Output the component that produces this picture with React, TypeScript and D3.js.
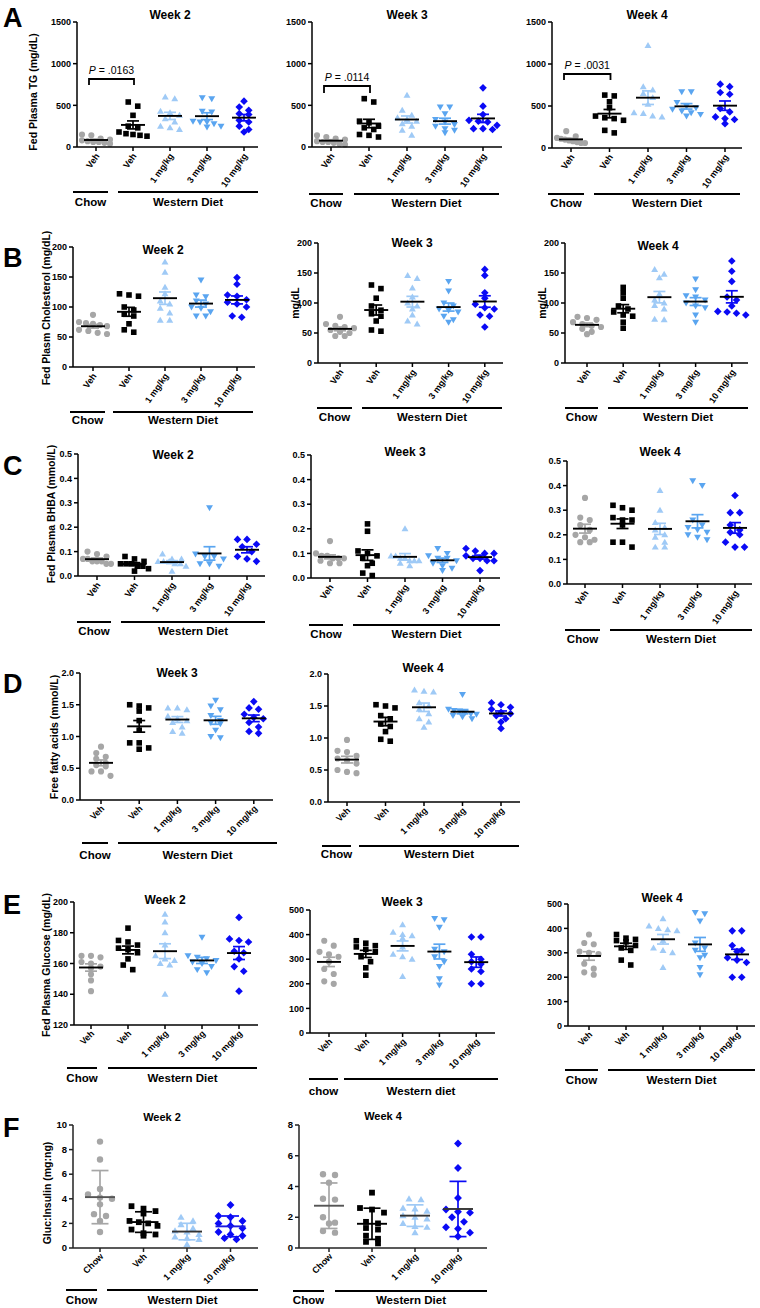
import React from "react";
import * as d3 from "d3";

const FONT = "'Liberation Sans', Arial, Helvetica, sans-serif";

// ---------- categories & ticks ----------
const catsMain = ["Veh", "Veh", "1 mg/kg", "3 mg/kg", "10 mg/kg"];
const catsF = ["Chow", "Veh", "1 mg/kg", "10 mg/kg"];
const tgTicks = [0, 500, 1000, 1500];
const cholTicks = [0, 50, 100, 150, 200];
const bhbaTicks = [0, 0.1, 0.2, 0.3, 0.4, 0.5];
const ffaTicks = [0, 0.5, 1.0, 1.5, 2.0];
const glucW2Ticks = [120, 140, 160, 180, 200];
const glucTicks = [0, 100, 200, 300, 400, 500];
const giW2Ticks = [0, 2, 4, 6, 8, 10];
const giW4Ticks = [0, 2, 4, 6, 8];

// ---------- A: Fed plasma TG (mg/dL) ----------
const tgW2 = [
  [150, 140, 100, 90, 80, 70, 60, 60, 50, 40],
  [540, 490, 380, 250, 230, 180, 160, 150, 140, 130],
  [600, 580, 430, 410, 380, 340, 300, 250, 230, 210],
  [590, 580, 430, 420, 310, 300, 300, 280, 250, 240],
  [550, 480, 440, 400, 390, 320, 300, 250, 210, 180],
];
const tgW3 = [
  [140, 120, 100, 90, 70, 60, 50, 40, 30, 60],
  [580, 540, 310, 290, 250, 230, 210, 150, 140, 120],
  [620, 440, 380, 350, 330, 310, 280, 250, 200, 140],
  [480, 480, 400, 330, 300, 270, 250, 220, 200, 170],
  [710, 490, 390, 320, 310, 300, 260, 220, 220, 210],
];
const tgW4 = [
  [200, 140, 120, 110, 100, 90, 80, 70, 60, 60],
  [630, 620, 550, 480, 380, 360, 350, 330, 210, 180],
  [1220, 730, 690, 650, 600, 520, 420, 410, 380, 370],
  [670, 670, 540, 500, 480, 460, 440, 420, 400, 380],
  [760, 730, 660, 640, 470, 430, 370, 350, 340, 290],
];
const tgPValues = ["P = .0163", "P = .0114", "P = .0031"];
const tgBracketTop = [816, 732, 881];
const tgBracketLeg = [744, 648, 810];

// ---------- B: Fed plasma cholesterol (mg/dL) ----------
const cholW2 = [
  [87, 75, 73, 72, 70, 68, 62, 60, 57, 55],
  [122, 120, 118, 100, 95, 88, 85, 72, 62, 58],
  [175, 158, 133, 122, 110, 105, 98, 90, 78, 78],
  [145, 120, 117, 110, 105, 100, 98, 92, 85, 85],
  [149, 138, 120, 118, 112, 108, 105, 100, 85, 83],
];
const cholW3 = [
  [77, 65, 62, 60, 58, 55, 52, 50, 45, 45],
  [130, 124, 108, 95, 88, 82, 78, 70, 55, 53],
  [146, 141, 125, 110, 100, 95, 90, 80, 70, 65],
  [136, 120, 100, 95, 90, 88, 85, 78, 72, 68],
  [156, 146, 117, 108, 98, 92, 90, 80, 78, 60],
];
const cholW4 = [
  [77, 75, 72, 68, 65, 62, 60, 57, 52, 48],
  [126, 117, 108, 95, 90, 85, 80, 78, 68, 58],
  [156, 148, 142, 115, 105, 100, 96, 90, 73, 72],
  [140, 122, 112, 110, 105, 100, 95, 92, 80, 68],
  [170, 153, 136, 110, 105, 95, 86, 85, 83, 80],
];

// ---------- C: Fed plasma BHBA (mmol/L) ----------
const bhbaW2 = [
  [0.10, 0.09, 0.08, 0.07, 0.07, 0.06, 0.06, 0.06, 0.05, 0.05],
  [0.08, 0.07, 0.06, 0.05, 0.05, 0.05, 0.04, 0.04, 0.03, 0.02],
  [0.09, 0.07, 0.07, 0.06, 0.06, 0.06, 0.05, 0.05, 0.04, 0.02],
  [0.28, 0.09, 0.08, 0.08, 0.07, 0.05, 0.05, 0.04],
  [0.15, 0.15, 0.13, 0.12, 0.10, 0.08, 0.07, 0.06],
];
const bhbaW3 = [
  [0.15, 0.10, 0.09, 0.09, 0.08, 0.08, 0.08, 0.07, 0.06, 0.06],
  [0.22, 0.19, 0.11, 0.10, 0.09, 0.08, 0.06, 0.05, 0.02, 0.01],
  [0.20, 0.09, 0.09, 0.08, 0.08, 0.07, 0.07, 0.07, 0.06, 0.05],
  [0.12, 0.10, 0.09, 0.08, 0.08, 0.07, 0.06, 0.05, 0.04, 0.03],
  [0.12, 0.11, 0.10, 0.10, 0.09, 0.08, 0.08, 0.07, 0.07, 0.03],
];
const bhbaW4 = [
  [0.35, 0.27, 0.26, 0.24, 0.22, 0.20, 0.19, 0.18, 0.17, 0.17],
  [0.32, 0.31, 0.30, 0.27, 0.26, 0.26, 0.24, 0.17, 0.17, 0.15],
  [0.38, 0.30, 0.25, 0.23, 0.22, 0.20, 0.19, 0.17, 0.15, 0.15],
  [0.42, 0.40, 0.26, 0.24, 0.23, 0.22, 0.21, 0.20, 0.19, 0.18],
  [0.36, 0.29, 0.29, 0.24, 0.22, 0.21, 0.20, 0.17, 0.15, 0.15],
];

// ---------- D: Free fatty acids (mmol/L) ----------
const ffaW3 = [
  [0.84, 0.74, 0.68, 0.65, 0.58, 0.55, 0.53, 0.45, 0.45, 0.38],
  [1.50, 1.48, 1.45, 1.40, 1.25, 1.10, 0.90, 0.90, 0.82, 0.80],
  [1.45, 1.45, 1.42, 1.32, 1.28, 1.25, 1.22, 1.15, 1.08, 1.05],
  [1.57, 1.48, 1.42, 1.33, 1.25, 1.22, 1.20, 1.10, 1.00, 0.98],
  [1.55, 1.45, 1.43, 1.35, 1.30, 1.28, 1.22, 1.15, 1.08, 1.05],
];
const ffaW4 = [
  [0.97, 0.80, 0.78, 0.72, 0.68, 0.65, 0.60, 0.50, 0.47, 0.45],
  [1.52, 1.50, 1.47, 1.35, 1.30, 1.22, 1.18, 1.10, 0.98, 0.95],
  [1.75, 1.73, 1.72, 1.55, 1.50, 1.45, 1.38, 1.30, 1.25, 1.17],
  [1.68, 1.45, 1.43, 1.42, 1.40, 1.38, 1.37, 1.35, 1.33, 1.30],
  [1.55, 1.52, 1.48, 1.45, 1.40, 1.38, 1.35, 1.30, 1.25, 1.15],
];

// ---------- E: Fed plasma glucose (mg/dL) ----------
const glucW2 = [
  [165, 165, 164, 161, 160, 158, 157, 153, 149, 142],
  [183, 175, 174, 172, 170, 169, 167, 163, 159, 156],
  [192, 187, 180, 172, 165, 163, 162, 160, 159, 140],
  [177, 165, 164, 163, 162, 161, 160, 158, 156, 154],
  [190, 176, 175, 174, 168, 167, 163, 158, 155, 142],
];
const glucW3 = [
  [375, 355, 330, 320, 310, 290, 260, 240, 210, 200],
  [375, 365, 355, 350, 340, 330, 310, 290, 265, 235],
  [440, 410, 400, 395, 385, 350, 320, 310, 300, 230],
  [465, 460, 430, 340, 330, 310, 290, 270, 220, 195],
  [390, 390, 320, 300, 290, 280, 260, 250, 200, 200],
];
const glucW4 = [
  [375, 340, 335, 305, 300, 295, 255, 235, 220, 210],
  [375, 360, 355, 350, 345, 330, 320, 310, 270, 250],
  [440, 410, 400, 395, 390, 350, 320, 310, 300, 240],
  [465, 460, 430, 340, 320, 310, 290, 280, 240, 210],
  [390, 390, 330, 310, 305, 280, 270, 260, 200, 200],
];

// ---------- F: Gluc:Insulin (mg:ng) ----------
const giW2 = [
  [8.65, 7.2, 4.8, 4.35, 4.1, 4.0, 3.55, 2.75, 2.6, 2.2, 1.3],
  [3.4, 3.2, 3.0, 2.8, 2.2, 2.1, 2.0, 1.8, 1.5, 1.2, 1.1, 1.0],
  [2.5, 2.2, 1.9, 1.6, 1.4, 1.3, 1.1, 0.9, 0.8, 0.7, 0.3],
  [3.5, 2.6, 2.5, 2.2, 2.0, 1.8, 1.6, 1.3, 1.1, 1.0, 0.8, 0.7],
];
const giW4 = [
  [4.8, 4.75, 4.25, 3.2, 3.15, 2.0, 1.65, 1.6, 1.1, 1.0],
  [3.6, 2.6, 2.5, 2.3, 1.7, 1.6, 1.3, 1.2, 0.8, 0.6, 0.4, 0.3],
  [3.2, 3.15, 2.6, 2.55, 2.4, 2.1, 2.0, 1.9, 1.6, 1.4, 1.35, 1.0],
  [6.8, 5.2, 3.25, 2.5, 2.35, 2.3, 2.0, 1.7, 1.35, 1.25, 1.0, 0.75],
];

// ---------- styles ----------
const colorsMain = ["#a6a6a6", "#000000", "#9fcaf6", "#5aa5f0", "#0a0af5"];
const shapesMain = ["circle", "square", "up", "down", "diamond"];
const colorsF = ["#a6a6a6", "#000000", "#9fcaf6", "#0a0af5"];
const shapesF = ["circle", "square", "up", "diamond"];

function markerPath(shape: string, s: number): string {
  const h = s / 2;
  switch (shape) {
    case "circle": {
      const r = s * 0.55;
      return `M${-r},0A${r},${r} 0 1,0 ${r},0A${r},${r} 0 1,0 ${-r},0Z`;
    }
    case "square":
      return `M${-h},${-h}H${h}V${h}H${-h}Z`;
    case "up":
      return `M0,${-s * 0.62}L${s * 0.62},${s * 0.45}L${-s * 0.62},${s * 0.45}Z`;
    case "down":
      return `M0,${s * 0.62}L${s * 0.62},${-s * 0.45}L${-s * 0.62},${-s * 0.45}Z`;
    default:
      return `M0,${-s * 0.68}L${s * 0.68},0L0,${s * 0.68}L${-s * 0.68},0Z`;
  }
}

function swarm(vals: number[], y: (v: number) => number, rowH: number, spacing: number, maxW: number) {
  const order = vals.map((_, i) => i).sort((a, b) => vals[b] - vals[a]);
  const rows: number[][] = [];
  let cur: number[] = [];
  let startY = 0;
  for (const i of order) {
    const py = y(vals[i]);
    if (cur.length === 0) {
      cur = [i];
      startY = py;
    } else if (py - startY < rowH) cur.push(i);
    else {
      rows.push(cur);
      cur = [i];
      startY = py;
    }
  }
  if (cur.length) rows.push(cur);
  const off = new Array(vals.length).fill(0);
  rows.forEach((r) => {
    const n = r.length;
    const s = n > 1 ? Math.min(spacing, maxW / (n - 1)) : 0;
    r.forEach((idx, j) => (off[idx] = (j - (n - 1) / 2) * s));
  });
  return off;
}

type Spec = {
  key: string;
  data: number[][];
  cats: string[];
  domain: [number, number];
  ticks: number[];
  fmt: (v: number) => string;
  ax: number;
  axEnd: number;
  yTop: number;
  yBot: number;
  c0: number;
  step: number;
  title: string;
  tx: number;
  ty: number;
  ylabel?: string;
  ylx?: number;
  yly?: number;
  angle: number;
  chow: [number, number];
  wd: [number, number];
  gy: number;
  gty: number;
  chowText?: string;
  wdText?: string;
  isF?: boolean;
  bracket?: { top: number; leg: number; text: string };
  meanColors?: string[];
};

const fInt = d3.format("d");
const f1 = d3.format(".1f");

const specs: Spec[] = [
  // Row A
  { key: "a1", data: tgW2, cats: catsMain, domain: [0, 1500], ticks: tgTicks, fmt: fInt, ax: 77, axEnd: 258, yTop: 22, yBot: 147, c0: 96, step: 37, title: "Week 2", tx: 170, ty: 19, ylabel: "Fed Plasma TG (mg/dL)", ylx: 33, yly: 92, angle: 55, chow: [73, 108], wd: [118, 258], gy: 192, gty: 206, bracket: { top: tgBracketTop[0], leg: tgBracketLeg[0], text: tgPValues[0] } },
  { key: "a2", data: tgW3, cats: catsMain, domain: [0, 1500], ticks: tgTicks, fmt: fInt, ax: 312, axEnd: 502, yTop: 22, yBot: 147, c0: 331, step: 38, title: "Week 3", tx: 407, ty: 19, angle: 55, chow: [309, 343], wd: [354, 499], gy: 194, gty: 207, bracket: { top: tgBracketTop[1], leg: tgBracketLeg[1], text: tgPValues[1] } },
  { key: "a3", data: tgW4, cats: catsMain, domain: [0, 1500], ticks: tgTicks, fmt: fInt, ax: 552, axEnd: 742, yTop: 22, yBot: 148, c0: 571, step: 38.5, title: "Week 4", tx: 647, ty: 19, angle: 55, chow: [548, 584], wd: [594, 740], gy: 194, gty: 207, bracket: { top: tgBracketTop[2], leg: tgBracketLeg[2], text: tgPValues[2] } },
  // Row B
  { key: "b1", data: cholW2, cats: catsMain, domain: [0, 200], ticks: cholTicks, fmt: fInt, ax: 73, axEnd: 255, yTop: 247, yBot: 367, c0: 93, step: 36, title: "Week 2", tx: 163, ty: 254, ylabel: "Fed Plasm Cholesterol (mg/dL)", ylx: 46, yly: 308, angle: 55, chow: [70, 105], wd: [113, 253], gy: 412, gty: 424 },
  { key: "b2", data: cholW3, cats: catsMain, domain: [0, 200], ticks: cholTicks, fmt: fInt, ax: 318, axEnd: 503, yTop: 243, yBot: 363, c0: 340, step: 36.2, title: "Week 3", tx: 412, ty: 247, ylabel: "mg/dL", ylx: 295, yly: 303, angle: 55, chow: [317, 352], wd: [362, 502], gy: 408, gty: 421 },
  { key: "b3", data: cholW4, cats: catsMain, domain: [0, 200], ticks: cholTicks, fmt: fInt, ax: 565, axEnd: 748, yTop: 243, yBot: 363, c0: 587, step: 36.2, title: "Week 4", tx: 658, ty: 250, ylabel: "mg/dL", ylx: 542, yly: 303, angle: 55, chow: [565, 598], wd: [608, 748], gy: 408, gty: 421 },
  // Row C
  { key: "c1", data: bhbaW2, cats: catsMain, domain: [0, 0.5], ticks: bhbaTicks, fmt: f1, ax: 78, axEnd: 265, yTop: 454, yBot: 576, c0: 97, step: 37.5, title: "Week 2", tx: 173, ty: 459, ylabel: "Fed Plasma BHBA (mmol/L)", ylx: 51, yly: 514, angle: 55, chow: [77, 111], wd: [121, 265], gy: 622, gty: 635 },
  { key: "c2", data: bhbaW3, cats: catsMain, domain: [0, 0.5], ticks: bhbaTicks, fmt: f1, ax: 311, axEnd: 500, yTop: 455, yBot: 578, c0: 330, step: 37.5, title: "Week 3", tx: 405, ty: 456, angle: 55, chow: [309, 343], wd: [353, 500], gy: 625, gty: 638 },
  { key: "c3", data: bhbaW4, cats: catsMain, domain: [0, 0.5], ticks: bhbaTicks, fmt: f1, ax: 567, axEnd: 752, yTop: 461, yBot: 584, c0: 585, step: 37.5, title: "Week 4", tx: 660, ty: 456, angle: 55, chow: [565, 600], wd: [610, 752], gy: 630, gty: 643 },
  // Row D
  { key: "d1", data: ffaW3, cats: catsMain, domain: [0, 2], ticks: ffaTicks, fmt: f1, ax: 80, axEnd: 273, yTop: 673, yBot: 800, c0: 101, step: 38.2, title: "Week 3", tx: 177, ty: 677, ylabel: "Free fatty acids (mmol/L)", ylx: 54, yly: 737, angle: 45, chow: [82, 108], wd: [118, 277], gy: 843, gty: 859 },
  { key: "d2", data: ffaW4, cats: catsMain, domain: [0, 2], ticks: ffaTicks, fmt: f1, ax: 328, axEnd: 520, yTop: 674, yBot: 802, c0: 347, step: 38.5, title: "Week 4", tx: 423, ty: 672, angle: 45, chow: [322, 351], wd: [359, 519], gy: 846, gty: 858 },
  // Row E
  { key: "e1", data: glucW2, cats: catsMain, domain: [120, 200], ticks: glucW2Ticks, fmt: fInt, ax: 74, axEnd: 258, yTop: 902, yBot: 1025, c0: 91, step: 37, title: "Week 2", tx: 165, ty: 904, ylabel: "Fed Plasma Glucose (mg/dL)", ylx: 46, yly: 965, angle: 45, chow: [67, 97], wd: [108, 257], gy: 1068, gty: 1082 },
  { key: "e2", data: glucW3, cats: catsMain, domain: [0, 500], ticks: glucTicks, fmt: fInt, ax: 310, axEnd: 495, yTop: 910, yBot: 1033, c0: 329, step: 36.8, title: "Week 3", tx: 402, ty: 906, angle: 45, chow: [309, 338], wd: [344, 498], gy: 1079, gty: 1095, chowText: "chow", wdText: "Western diet" },
  { key: "e3", data: glucW4, cats: catsMain, domain: [0, 500], ticks: glucTicks, fmt: fInt, ax: 568, axEnd: 755, yTop: 904, yBot: 1026, c0: 589, step: 37, title: "Week 4", tx: 662, ty: 902, angle: 45, chow: [565, 598], wd: [608, 755], gy: 1070, gty: 1084 },
  // Row F
  { key: "f1", data: giW2, cats: catsF, domain: [0, 10], ticks: giW2Ticks, fmt: fInt, ax: 73, axEnd: 258, yTop: 1125, yBot: 1248, c0: 100, step: 43.5, title: "Week 2", tx: 162, ty: 1121, ylabel: "Gluc:Insulin (mg:ng)", ylx: 47, yly: 1193, angle: 45, chow: [66, 97], wd: [107, 258], gy: 1290, gty: 1304, isF: true, meanColors: ["#555555", "#000000", "#333333", "#1a1ae0"] },
  { key: "f2", data: giW4, cats: catsF, domain: [0, 8], ticks: giW4Ticks, fmt: fInt, ax: 299, axEnd: 487, yTop: 1125, yBot: 1248, c0: 329, step: 43, title: "Week 4", tx: 383, ty: 1120, angle: 45, chow: [293, 324], wd: [335, 487], gy: 1291, gty: 1304, isF: true, meanColors: ["#555555", "#000000", "#333333", "#333333"] },
];

const letters = [
  { t: "A", y: 27 },
  { t: "B", y: 267 },
  { t: "C", y: 475 },
  { t: "D", y: 693 },
  { t: "E", y: 914 },
  { t: "F", y: 1137 },
];

function Panel({ s }: { s: Spec }) {
  const y = d3.scaleLinear().domain(s.domain).range([s.yBot, s.yTop]);
  const idx = s.cats.map((_, i) => i);
  const x = d3
    .scalePoint<number>()
    .domain(idx)
    .range([s.c0, s.c0 + s.step * (s.cats.length - 1)]);
  const colors = s.isF ? colorsF : colorsMain;
  const shapes = s.isF ? shapesF : shapesMain;
  const ms = s.isF ? 5.8 : 5.6;
  const spacing = s.isF ? 12 : 9.5;
  const maxW = s.isF ? 28 : 28;
  const meanW = s.isF ? 30 : 24;
  const capW = s.isF ? 17 : 12;
  const tickFont = s.isF ? 9.5 : 9;
  const ax = s.ax;
  return (
    <g>
      {s.data.map((vals, gi) => {
        const cx = x(gi) as number;
        const offs = swarm(vals, y, ms * 0.95, spacing, maxW);
        return (
          <g key={`p${gi}`}>
            {vals.map((v, k) => (
              <path
                key={k}
                d={markerPath(shapes[gi], ms)}
                transform={`translate(${cx + offs[k]},${y(v)})`}
                fill={colors[gi]}
              />
            ))}
          </g>
        );
      })}
      {s.data.map((vals, gi) => {
        const cx = x(gi) as number;
        const m = d3.mean(vals) as number;
        const sd = d3.deviation(vals) as number;
        const e = s.isF ? sd : sd / Math.sqrt(vals.length);
        const col = colors[gi];
        const mc = s.meanColors ? s.meanColors[gi] : "#000";
        return (
          <g key={`e${gi}`} strokeWidth={1.7} fill="none">
            <line x1={cx} x2={cx} y1={y(m + e)} y2={y(m - e)} stroke={col} />
            <line x1={cx - capW / 2} x2={cx + capW / 2} y1={y(m + e)} y2={y(m + e)} stroke={col} />
            <line x1={cx - capW / 2} x2={cx + capW / 2} y1={y(m - e)} y2={y(m - e)} stroke={col} />
            <line x1={cx - meanW / 2} x2={cx + meanW / 2} y1={y(m)} y2={y(m)} stroke={mc} strokeWidth={1.9} />
          </g>
        );
      })}
      <g stroke={s.isF ? "#222" : "#000"} strokeWidth={1.5}>
        <line x1={ax} x2={ax} y1={s.yTop} y2={s.yBot} />
        <line x1={ax} x2={s.axEnd} y1={s.yBot} y2={s.yBot} />
        {s.ticks.map((t) => (
          <line key={`yt${t}`} x1={ax - 4} x2={ax} y1={y(t)} y2={y(t)} />
        ))}
        {idx.map((i) => (
          <line key={`xt${i}`} x1={x(i)} x2={x(i)} y1={s.yBot} y2={s.yBot + 4} />
        ))}
      </g>
      {s.ticks.map((t) => (
        <text
          key={`ytl${t}`}
          x={ax - 6}
          y={y(t) + 3.2}
          textAnchor="end"
          fontSize={tickFont}
          fontWeight="bold"
          fontFamily={FONT}
        >
          {s.fmt(t)}
        </text>
      ))}
      {idx.map((i) => (
        <text
          key={`xtl${i}`}
          transform={`translate(${(x(i) as number) + 4},${s.yBot + 9}) rotate(${-s.angle})`}
          textAnchor="end"
          fontSize={9}
          fontWeight="bold"
          fontFamily={FONT}
        >
          {s.cats[i]}
        </text>
      ))}
      <text x={s.tx} y={s.ty} textAnchor="middle" fontSize={s.isF ? 11 : 12} fontWeight="bold" fontFamily={FONT}>
        {s.title}
      </text>
      {s.ylabel && (
        <text
          transform={`translate(${s.ylx},${s.yly}) rotate(-90)`}
          dy="0.35em"
          textAnchor="middle"
          fontSize={10.5}
          fontWeight="bold"
          fontFamily={FONT}
        >
          {s.ylabel}
        </text>
      )}
      <g stroke="#000" strokeWidth={2}>
        <line x1={s.chow[0]} x2={s.chow[1]} y1={s.gy} y2={s.gy} />
        <line x1={s.wd[0]} x2={s.wd[1]} y1={s.gy} y2={s.gy} />
      </g>
      <text x={(s.chow[0] + s.chow[1]) / 2} y={s.gty} textAnchor="middle" fontSize={11.5} fontWeight="bold" fontFamily={FONT}>
        {s.chowText || "Chow"}
      </text>
      <text x={(s.wd[0] + s.wd[1]) / 2} y={s.gty} textAnchor="middle" fontSize={11.5} fontWeight="bold" fontFamily={FONT}>
        {s.wdText || "Western Diet"}
      </text>
      {s.bracket && (() => {
        const xl = (x(0) as number) - 7;
        const xr = (x(1) as number) + 1;
        const yt = y(s.bracket.top);
        const yl = y(s.bracket.leg);
        const parts = s.bracket.text.split(" = ");
        return (
          <g>
            <path d={`M${xl},${yl}V${yt}H${xr}V${yl}`} fill="none" stroke="#000" strokeWidth={1.8} />
            <text x={(xl + xr) / 2} y={yt - 5} textAnchor="middle" fontSize={10.5} fontFamily={FONT}>
              <tspan fontStyle="italic">{parts[0]}</tspan>
              {" = " + parts[1]}
            </text>
          </g>
        );
      })()}
    </g>
  );
}

export default function App() {
  return (
    <svg
      width={760}
      height={1308}
      viewBox="0 0 760 1308"
      style={{ position: "absolute", left: 0, top: 0, background: "#fff" }}
    >
      <rect x={0} y={0} width={760} height={1308} fill="#fff" />
      {letters.map((l) => (
        <text key={l.t} x={3} y={l.y} fontSize={27} fontWeight="bold" fontFamily={FONT}>
          {l.t}
        </text>
      ))}
      {specs.map((s) => (
        <Panel key={s.key} s={s} />
      ))}
    </svg>
  );
}
